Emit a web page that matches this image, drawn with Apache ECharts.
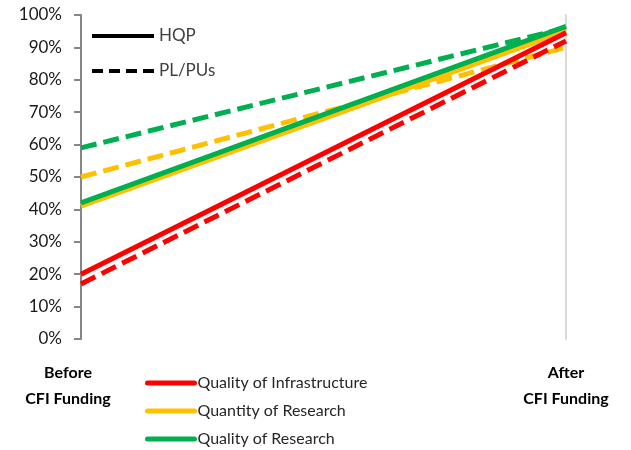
<!DOCTYPE html>
<html><head><meta charset="utf-8">
<script src="https://cdn.jsdelivr.net/npm/echarts@6/dist/echarts.min.js"></script>
<style>html,body{margin:0;padding:0;background:#fff}#c{width:631px;height:450px}</style>
</head><body><div id="c"></div>
<script>
var categories = ['Before\nCFI Funding', 'After\nCFI Funding'];
var yTicks = [0, 10, 20, 30, 40, 50, 60, 70, 80, 90, 100];
var seriesNames = ['Quality of Infrastructure', 'Quantity of Research', 'Quality of Research'];
var hqpInfra = [20, 94.5];
var plInfra = [17, 92];
var hqpQuantity = [41, 95];
var plQuantity = [50, 90];
var hqpQuality = [42, 96.5];
var plQuality = [59, 96];
var groupNames = ['HQP', 'PL/PUs'];

var colors = ['#ff0000', '#ffc000', '#00b050'];
var FONT = 'Lato';
var dash = [16, 7];

function line(name, data, color, dashed, z) {
  return {
    name: name, type: 'line', data: data, symbol: 'none', z: z,
    lineStyle: { color: color, width: 5, type: dashed ? dash : 'solid' },
    itemStyle: { color: color }
  };
}

var series = [
  line('PL Quality', plQuality, colors[2], true, 2),
  line('PL Quantity', plQuantity, colors[1], true, 3),
  line(seriesNames[1], hqpQuantity, colors[1], false, 4),
  line(seriesNames[2], hqpQuality, colors[2], false, 5),
  line('PL Infra', plInfra, colors[0], true, 6),
  line(seriesNames[0], hqpInfra, colors[0], false, 7),
  { name: groupNames[0], type: 'line', data: [], symbol: 'none',
    lineStyle: { color: '#000', width: 4, type: 'solid' }, itemStyle: { color: '#000' } },
  { name: groupNames[1], type: 'line', data: [], symbol: 'none',
    lineStyle: { color: '#000', width: 4, type: [11, 6] }, itemStyle: { color: '#000' } }
];

var chart = echarts.init(document.getElementById('c'), null, { renderer: 'canvas' });
chart.setOption({
  animation: false,
  grid: { left: 81, right: 65, top: 15, bottom: 111, containLabel: false },
  legend: [
    { data: groupNames, orient: 'vertical', left: 90, top: 27, itemWidth: 62, itemHeight: 18,
      itemGap: 17, padding: 0, selectedMode: false,
      itemStyle: { opacity: 0, borderWidth: 0 },
      lineStyle: { width: 4 },
      textStyle: { fontFamily: FONT, fontSize: 17, lineHeight: 18, color: '#404040' } },
    { data: seriesNames, orient: 'vertical', left: 145, top: 374, height: 80, itemWidth: 47, itemHeight: 18,
      itemGap: 10, padding: 0, selectedMode: false,
      itemStyle: { opacity: 0, borderWidth: 0 },
      lineStyle: { width: 5, cap: 'round' },
      textStyle: { fontFamily: FONT, fontSize: 16, lineHeight: 18, color: '#262626', padding: [0, 0, 0, -2] } }
  ],
  xAxis: {
    type: 'category', boundaryGap: false,
    data: [
      { value: categories[0], textStyle: { padding: [0, 26, 0, 0] } },
      { value: categories[1], textStyle: { padding: [0, 0, 0, 0] } }
    ],
    axisLine: { show: false }, axisTick: { show: false },
    axisLabel: { fontFamily: FONT, fontSize: 16, fontWeight: 'bold', color: '#000',
      margin: 21, lineHeight: 26, interval: 0 },
    splitLine: { show: false }
  },
  yAxis: [
    { type: 'value', min: 0, max: 100, interval: 10,
      axisLine: { show: true, lineStyle: { color: '#868686', width: 2 } },
      axisTick: { show: true, length: 7, lineStyle: { color: '#868686', width: 2 } },
      axisLabel: { fontFamily: FONT, fontSize: 17, color: '#1a1a1a', margin: 19,
        formatter: function (v) { return yTicks.indexOf(v) >= 0 ? v + '%' : ''; } },
      splitLine: { show: false } },
    { type: 'value', min: 0, max: 100, interval: 10, position: 'right',
      axisLine: { show: true, lineStyle: { color: '#d9d9d9', width: 2 } },
      axisTick: { show: false }, axisLabel: { show: false }, splitLine: { show: false } }
  ],
  series: series
});
</script></body></html>
